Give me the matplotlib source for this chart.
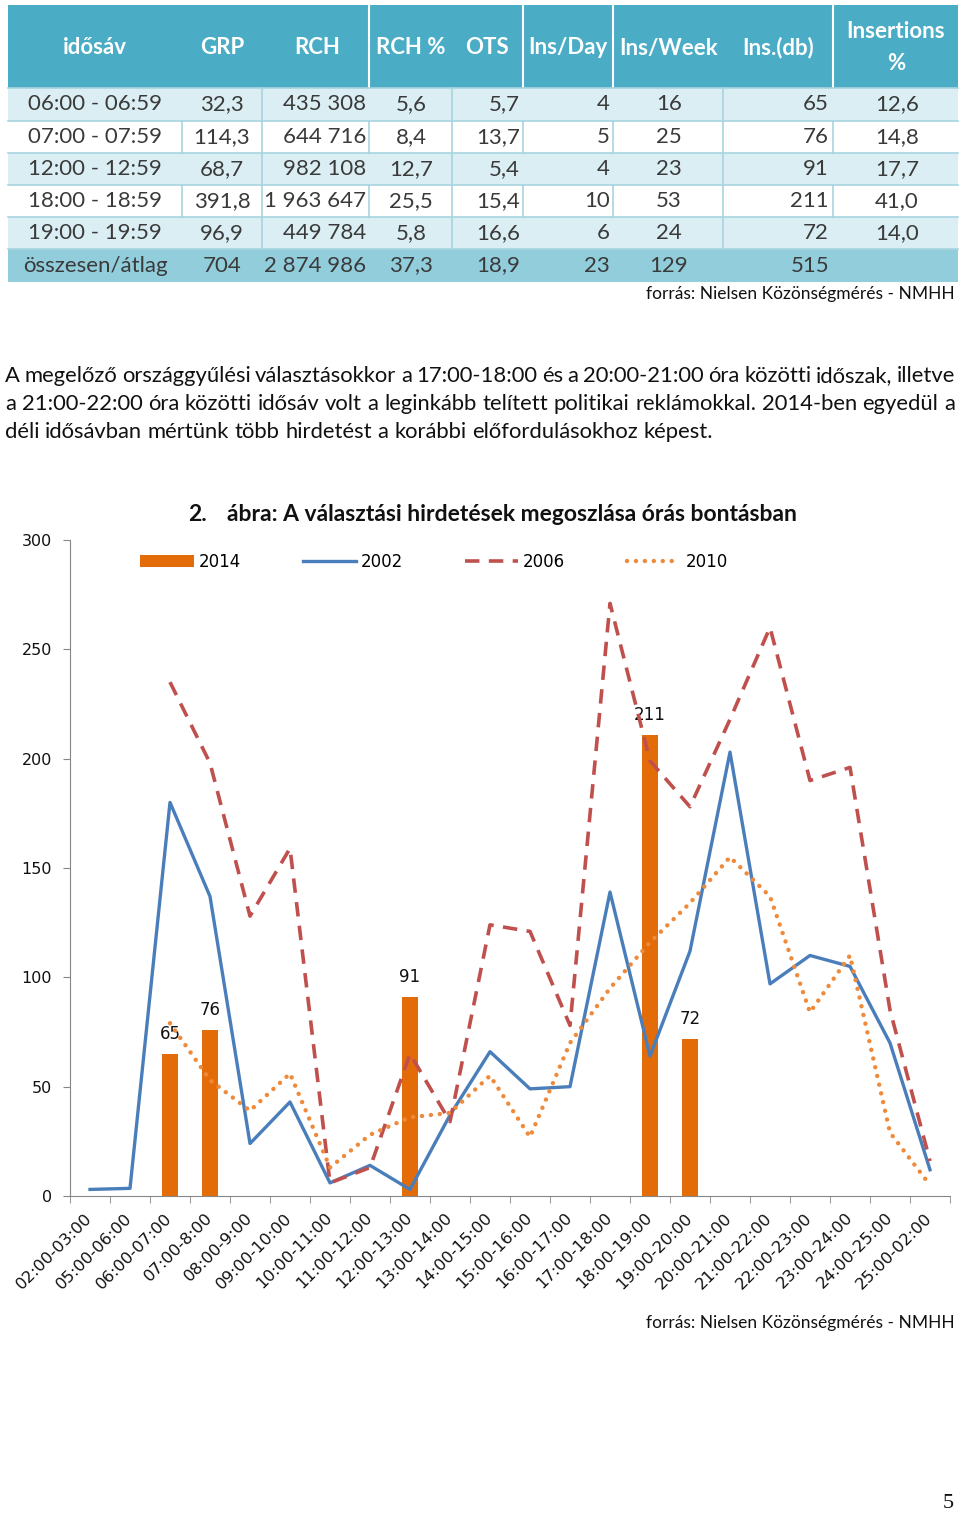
import numpy as np
import matplotlib
matplotlib.use("Agg")
import matplotlib.pyplot as plt
from matplotlib.patches import Rectangle, Patch
from matplotlib.lines import Line2D

# ---- table data ----
headers = ["idősáv", "GRP", "RCH", "RCH %", "OTS", "Ins/Day", "Ins/Week", "Ins.(db)"]
time_bands = ["06:00 - 06:59", "07:00 - 07:59", "12:00 - 12:59", "18:00 - 18:59",
              "19:00 - 19:59", "összesen/átlag"]
grp = ["32,3", "114,3", "68,7", "391,8", "96,9", "704"]
rch = ["435 308", "644 716", "982 108", "1 963 647", "449 784", "2 874 986"]
rch_pct = ["5,6", "8,4", "12,7", "25,5", "5,8", "37,3"]
ots = ["5,7", "13,7", "5,4", "15,4", "16,6", "18,9"]
ins_day = ["4", "5", "4", "10", "6", "23"]
ins_week = ["16", "25", "23", "53", "24", "129"]
ins_db = ["65", "76", "91", "211", "72", "515"]
ins_pct = ["12,6", "14,8", "17,7", "41,0", "14,0", ""]

# ---- chart data ----
hours = ["02:00-03:00", "05:00-06:00", "06:00-07:00", "07:00-8:00", "08:00-9:00",
         "09:00-10:00", "10:00-11:00", "11:00-12:00", "12:00-13:00", "13:00-14:00",
         "14:00-15:00", "15:00-16:00", "16:00-17:00", "17:00-18:00", "18:00-19:00",
         "19:00-20:00", "20:00-21:00", "21:00-22:00", "22:00-23:00", "23:00-24:00",
         "24:00-25:00", "25:00-02:00"]
ins_2014 = [0, 0, 65, 76, 0, 0, 0, 0, 91, 0, 0, 0, 0, 0, 211, 72, 0, 0, 0, 0, 0, 0]
ins_2002 = [3, 3.5, 180, 137, 24, 43, 6, 14, 3, 37, 66, 49, 50, 139, 64, 112,
            203, 97, 110, 105, 70, 12]
ins_2006 = [np.nan, np.nan, 235, 198, 128, 159, 6, 13, 65, 34, 124, 121, 78, 271,
            199, 178, 218, 260, 190, 196, 85, 16]
ins_2010 = [np.nan, np.nan, 79, 53, 39, 56, 13, 28, 36, 38, 55, 27, 70, 95, 116,
            134, 155, 137, 84, 110, 29, 5]

para_lines = [
    "A megelőző országgyűlési választásokkor a 17:00-18:00 és a 20:00-21:00 óra közötti időszak, illetve",
    "a 21:00-22:00 óra közötti idősáv volt a leginkább telített politikai reklámokkal. 2014-ben egyedül a",
    "déli idősávban mértünk több hirdetést a korábbi előfordulásokhoz képest.",
]
source = "forrás: Nielsen Közönségmérés - NMHH"

TXT = "#3a3a3a"
SANS = ["Lato", "DejaVu Sans"]

fig = plt.figure(figsize=(9.6, 15.16), dpi=100)
page = fig.add_axes([0, 0, 1, 1])
page.set_xlim(0, 960)
page.set_ylim(1516, 0)
page.axis("off")

# ---- table ----
x0, x1 = 8, 958
row_edges = [88, 121, 153, 185, 217, 249, 282]
page.add_patch(Rectangle((x0, 5), x1 - x0, 83, color="#4BACC6", lw=0))
fills = ["#DAEEF3", "white", "#DAEEF3", "white", "#DAEEF3", "#92CDDC"]
for i, c in enumerate(fills):
    page.add_patch(Rectangle((x0, row_edges[i]), x1 - x0, row_edges[i + 1] - row_edges[i],
                             color=c, lw=0))
for xv in [369, 523, 613, 833]:
    page.plot([xv, xv], [5, 88], color="white", lw=1.5)
light_cuts = [262, 452, 723]
white_cuts = [182, 262, 369, 452, 523, 613, 723, 833]
for i in range(5):
    cuts = light_cuts if i % 2 == 0 else white_cuts
    for xv in cuts:
        page.plot([xv, xv], [row_edges[i], row_edges[i + 1]], color="#A8D4E0", lw=1.2)
for yv in row_edges[:-1]:
    page.plot([x0, x1], [yv, yv], color="#A8D4E0", lw=1.2)

head_x = [95, 222, 317, 411, 487, 568, 669, 778]
hkw = dict(color="white", fontsize=16, fontweight="bold", family=SANS)
for h, xv in zip(headers, head_x):
    page.text(xv, 48, h, ha="center", va="center", **hkw)
page.text(896, 32, "Insertions", ha="center", va="center", **hkw)
page.text(896, 63, "%", ha="center", va="center", **hkw)

columns = [(time_bands, 95, "center"), (grp, 222, "center"), (rch, 366, "right"),
           (rch_pct, 411, "center"), (ots, 520, "right"), (ins_day, 610, "right"),
           (ins_week, 669, "center"), (ins_db, 829, "right"), (ins_pct, 897, "center")]
for vals, xv, ha in columns:
    for i, v in enumerate(vals):
        yc = (row_edges[i] + row_edges[i + 1]) / 2
        page.text(xv, yc, v, ha=ha, va="center", color=TXT, fontsize=16, family=SANS)

page.text(955, 294, source, ha="right", va="center", fontsize=12.5, color="#111111",
          family=["Liberation Sans Narrow"] + SANS)

# ---- justified paragraph ----
renderer = fig.canvas.get_renderer()
def width_of(s, **kw):
    t = page.text(0, 0, s, **kw)
    w = t.get_window_extent(renderer).width
    t.remove()
    return w

pkw = dict(fontsize=15.8, family=SANS, color="#111111")
space_w = width_of("a a", **pkw) - width_of("aa", **pkw)
for k, line in enumerate(para_lines):
    words = line.split(" ")
    ws = [width_of(w, **pkw) for w in words]
    if k < len(para_lines) - 1:
        gap = (950 - sum(ws)) / (len(words) - 1)
    else:
        gap = space_w
    xv = 5
    for w, wd in zip(words, ws):
        page.text(xv, 382 + 28 * k, w, ha="left", va="baseline", **pkw)
        xv += wd + gap

# ---- chart ----
tkw = dict(fontsize=16.5, fontweight="bold", family=SANS, color="#111111")
page.text(188, 521, "2.", ha="left", va="baseline", **tkw)
page.text(227, 521, "ábra: A választási hirdetések megoszlása órás bontásban", ha="left",
          va="baseline", **tkw)
page.text(955, 1323, source, ha="right", va="center", fontsize=12.5, color="#111111",
          family=["Liberation Sans Narrow"] + SANS)
page.text(948, 1504, "5", ha="center", va="center", fontsize=16,
          family=["Liberation Serif", "DejaVu Serif"], color="#111111")

ax = fig.add_axes([70 / 960, 1 - 1196 / 1516, 880 / 960, 656 / 1516])
ax.patch.set_alpha(0)
x = np.arange(len(hours))
c_bar, c02, c06, c10 = "#E36C09", "#4A7EBB", "#C0504D", "#EE8A3A"
bar_vals = np.array(ins_2014)
has = bar_vals > 0
ax.bar(x[has], bar_vals[has], width=0.4, color=c_bar, zorder=1)
for xi, v in zip(x[has], bar_vals[has]):
    ax.text(xi, v + 5, str(v), ha="center", va="bottom", fontsize=12, color="#111111")
ax.plot(x, ins_2002, color=c02, lw=2.4, zorder=3)
ax.plot(x, ins_2006, color=c06, lw=2.6, linestyle=(0, (4, 2.6)), zorder=3)
ax.plot(x, ins_2010, color=c10, lw=3.2, linestyle=(0, (0.01, 2.0)),
        dash_capstyle="round", zorder=3)

ax.set_xlim(-0.5, len(hours) - 0.5)
ax.set_ylim(0, 300)
ax.set_yticks(np.arange(0, 301, 50))
ax.set_xticks(x)
ax.set_xticklabels(hours, rotation=45, ha="right", va="center", rotation_mode="anchor",
                   fontsize=11.8, color="#111111")
ax.set_xticks(np.arange(-0.5, len(hours)), minor=True)
ax.tick_params(axis="x", which="major", length=0, pad=14)
ax.tick_params(axis="x", which="minor", length=5, color="#868686")
ax.tick_params(axis="y", length=5, color="#868686", labelsize=11.5, labelcolor="#111111",
               pad=8)
for s in ["top", "right"]:
    ax.spines[s].set_visible(False)
for s in ["left", "bottom"]:
    ax.spines[s].set_color("#868686")

handles = [Patch(facecolor=c_bar, edgecolor="none"),
           Line2D([], [], color=c02, lw=2.4),
           Line2D([], [], color=c06, lw=2.6, linestyle=(0, (4, 2.6))),
           Line2D([], [], color=c10, lw=3.2, linestyle=(0, (0.01, 2.0)), dash_capstyle="round")]
ax.legend(handles, ["2014", "2002", "2006", "2010"], ncol=4, frameon=False,
          loc="center", bbox_to_anchor=(0.4136, 0.9665), fontsize=12,
          handlelength=3.2, handleheight=0.7, handletextpad=0.3, columnspacing=3.7)

fig.savefig("out.png", dpi=100)
